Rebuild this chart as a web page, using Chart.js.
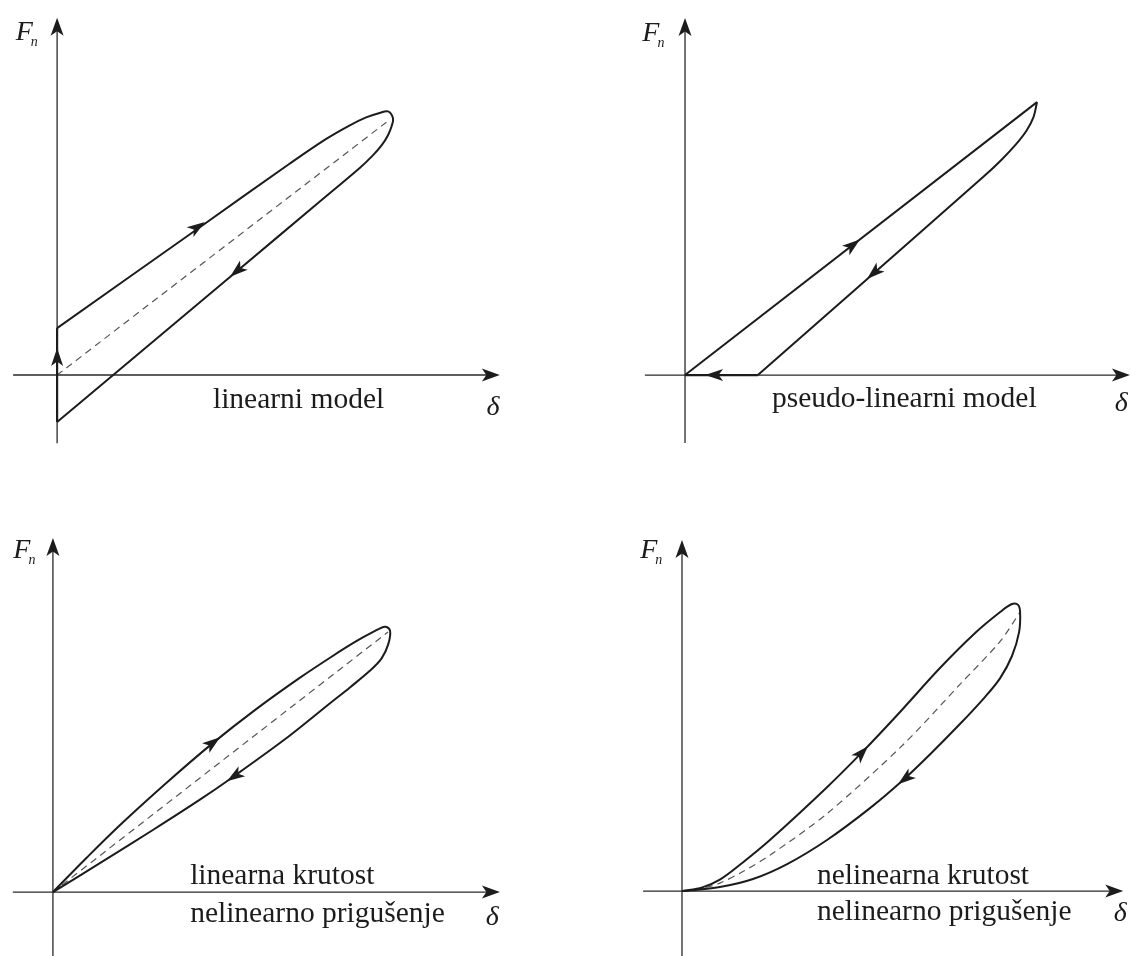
<!DOCTYPE html>
<html>
<head>
<meta charset="utf-8">
<script src="https://cdn.jsdelivr.net/npm/chart.js@4/dist/chart.umd.min.js"></script>
<style>
  body { margin: 0; background: #fff; }
  canvas { position: absolute; }
</style>
</head>
<body>
<canvas id="linearni" width="565" height="478" style="left:0;top:0"></canvas>
<canvas id="pseudo" width="566" height="478" style="left:565px;top:0"></canvas>
<canvas id="linKrutost" width="565" height="478" style="left:0;top:478px"></canvas>
<canvas id="nelinKrutost" width="566" height="478" style="left:565px;top:478px"></canvas>
<script>
// tocke [delta, Fn], delta i Fn svedeni na vrh petlje (~1, ~1)

// linearni model
const linearniOs = [[0, -0.179], [0, 0.179]];
const linearniPetlja = [
  [0, 0.179], [0.426, 0.565], [0.693, 0.807], [0.80, 0.90], [0.87, 0.952],
  [0.92, 0.983], [0.96, 1.0], [0.985, 1.006], [1.0, 0.98],
  [0.996, 0.95], [0.985, 0.915], [0.967, 0.878], [0.94, 0.838], [0.90, 0.789],
  [0.783, 0.663], [0.536, 0.397], [0.167, 0], [0, -0.179]
];
const linearniSrednja = [[0, 0], [0.991, 0.975]];

// pseudo-linearni model
const pseudoGore = [[0, 0], [1.0, 1.0]];
const pseudoDolje = [
  [1.0, 1.0], [0.99, 0.945], [0.97, 0.895], [0.94, 0.845], [0.90, 0.79],
  [0.85, 0.729], [0.5, 0.332], [0.207, 0]
];
const pseudoNula = [[0.207, 0], [0, 0]];

// linearna krutost, nelinearno prigusenje
const linKrutostPetlja = [
  [0, 0], [0.1, 0.13], [0.2, 0.255], [0.338, 0.415], [0.475, 0.565], [0.6, 0.69],
  [0.733, 0.812], [0.831, 0.895], [0.90, 0.95], [0.95, 0.985], [0.985, 1.005], [1.0, 0.99],
  [0.995, 0.94], [0.975, 0.885], [0.94, 0.838], [0.881, 0.775], [0.822, 0.715],
  [0.7, 0.59], [0.534, 0.436], [0.436, 0.35], [0.3, 0.238], [0.15, 0.118], [0, 0]
];
const linKrutostSrednja = [[0, 0], [0.994, 0.985]];

// nelinearna krutost, nelinearno prigusenje
const nelinKrutostPetlja = [
  [0, 0], [0.06, 0.013], [0.112, 0.04], [0.18, 0.1], [0.26, 0.178], [0.429, 0.362],
  [0.533, 0.484], [0.645, 0.624], [0.763, 0.777], [0.867, 0.899], [0.941, 0.972],
  [0.976, 1.0], [0.994, 0.997], [1.0, 0.972],
  [0.997, 0.902], [0.976, 0.819], [0.941, 0.742], [0.896, 0.676], [0.822, 0.582],
  [0.734, 0.477], [0.654, 0.387], [0.556, 0.289], [0.429, 0.178], [0.311, 0.094],
  [0.21, 0.042], [0.112, 0.014], [0, 0]
];
const nelinKrutostSrednja = [
  [0, 0], [0.06, 0.01], [0.112, 0.028], [0.18, 0.068], [0.26, 0.125], [0.429, 0.27],
  [0.654, 0.51], [0.822, 0.72], [0.941, 0.87], [1.0, 0.972]
];

const boja = '#1c1c1c';
const font = '"Liberation Serif", "DejaVu Serif", serif';

function strelica(ctx, x, y, kut, duz, sir) {
  ctx.save();
  ctx.translate(x, y);
  ctx.rotate(kut);
  ctx.beginPath();
  ctx.moveTo(0, 0);
  ctx.lineTo(-duz, -sir);
  ctx.lineTo(-duz * 0.75, 0);
  ctx.lineTo(-duz, sir);
  ctx.closePath();
  ctx.fillStyle = boja;
  ctx.fill();
  ctx.restore();
}

const skicaPlugin = {
  id: 'skica',
  beforeDatasetsDraw(chart, args, opts) {
    const { ctx, scales: { x, y } } = chart;
    ctx.save();
    ctx.strokeStyle = '#2a2a2a';
    ctx.lineWidth = 1.3;
    ctx.beginPath();
    ctx.moveTo(x.getPixelForValue(opts.osX[0]), y.getPixelForValue(0));
    ctx.lineTo(x.getPixelForValue(opts.osX[1]) - 8, y.getPixelForValue(0));
    ctx.moveTo(x.getPixelForValue(0), y.getPixelForValue(opts.osY[0]));
    ctx.lineTo(x.getPixelForValue(0), y.getPixelForValue(opts.osY[1]) + 8);
    ctx.stroke();
    strelica(ctx, x.getPixelForValue(opts.osX[1]), y.getPixelForValue(0), 0, 18, 6.5);
    strelica(ctx, x.getPixelForValue(0), y.getPixelForValue(opts.osY[1]), -Math.PI / 2, 18, 6.5);
    ctx.restore();
  },
  afterDatasetsDraw(chart, args, opts) {
    const { ctx, scales: { x, y } } = chart;
    ctx.save();
    opts.strelice.forEach(([d, f, d2, f2]) => {
      const px = x.getPixelForValue(d), py = y.getPixelForValue(f);
      const kut = Math.atan2(y.getPixelForValue(f2) - py, x.getPixelForValue(d2) - px);
      strelica(ctx, px, py, kut, 18, 6);
    });
    ctx.fillStyle = boja;
    ctx.textBaseline = 'alphabetic';
    ctx.textAlign = 'left';
    ctx.font = '29.5px ' + font;
    opts.natpisi.forEach(([t, d, f]) => {
      ctx.fillText(t, x.getPixelForValue(d), y.getPixelForValue(f));
    });
    ctx.textBaseline = 'middle';
    ctx.textAlign = 'center';
    ctx.font = 'italic 28px ' + font;
    const fx = x.getPixelForValue(opts.oznakaF[0]), fy = y.getPixelForValue(opts.oznakaF[1]);
    ctx.fillText('F', fx, fy);
    ctx.font = 'italic 14px ' + font;
    ctx.fillText('n', fx + 10, fy + 9);
    ctx.font = 'italic 28px ' + font;
    ctx.fillText('δ', x.getPixelForValue(opts.oznakaDelta[0]), y.getPixelForValue(opts.oznakaDelta[1]));
    ctx.restore();
  }
};

function linija(tocke, napetost, debljina) {
  return {
    data: tocke.map(([x, y]) => ({ x, y })),
    showLine: true,
    pointRadius: 0,
    borderColor: boja,
    borderWidth: debljina || 2,
    tension: napetost,
    fill: false
  };
}

function crtkano(tocke) {
  return { ...linija(tocke, 0.3, 1.2), borderDash: [7, 5], borderColor: '#555' };
}

function nacrtaj(id, granice, skupovi, skica) {
  new Chart(document.getElementById(id).getContext('2d'), {
    type: 'scatter',
    data: { datasets: skupovi },
    options: {
      responsive: false,
      animation: false,
      events: [],
      layout: { padding: 0 },
      plugins: { legend: { display: false }, tooltip: { enabled: false }, skica: skica },
      scales: {
        x: { type: 'linear', display: false, min: granice[0], max: granice[1] },
        y: { type: 'linear', display: false, min: granice[2], max: granice[3] }
      }
    },
    plugins: [skicaPlugin]
  });
}

nacrtaj('linearni', [-0.170, 1.512, -0.393, 1.431], [
  linija(linearniOs, 0, 2.2),
  linija(linearniPetlja, 0.35),
  crtkano(linearniSrednja)
], {
  osX: [-0.131, 1.318], osY: [-0.26, 1.363],
  strelice: [[0.440, 0.584, 0.693, 0.807], [0.515, 0.375, 0.167, 0], [0, 0.103, 0, 0.179]],
  natpisi: [['linearni model', 0.464, -0.126]],
  oznakaF: [-0.098, 1.305], oznakaDelta: [1.298, -0.126]
});

nacrtaj('pseudo', [-0.341, 1.267, -0.377, 1.374], [
  linija(pseudoGore, 0),
  linija(pseudoDolje, 0.35),
  linija(pseudoNula, 0, 2.2)
], {
  osX: [-0.114, 1.264], osY: [-0.249, 1.308],
  strelice: [[0.497, 0.497, 1, 1], [0.517, 0.352, 0.207, 0], [0.057, 0, 0, 0]],
  natpisi: [['pseudo-linearni model', 0.247, -0.117]],
  oznakaF: [-0.097, 1.249], oznakaDelta: [1.239, -0.103]
});

nacrtaj('linKrutost', [-0.157, 1.519, -0.242, 1.568], [
  linija(linKrutostPetlja, 0.35),
  crtkano(linKrutostSrednja)
], {
  osX: [-0.119, 1.326], osY: [-0.242, 1.341],
  strelice: [[0.496, 0.586, 0.733, 0.812], [0.516, 0.42, 0.3, 0.238]],
  natpisi: [['linearna krutost', 0.407, 0.030], ['nelinearno prigušenje', 0.407, -0.114]],
  oznakaF: [-0.092, 1.292], oznakaDelta: [1.303, -0.098]
});

nacrtaj('nelinKrutost', [-0.346, 1.328, -0.226, 1.439], [
  linija(nelinKrutostPetlja, 0.35),
  crtkano(nelinKrutostSrednja)
], {
  osX: [-0.115, 1.305], osY: [-0.226, 1.223],
  strelice: [[0.55, 0.505, 0.763, 0.777], [0.639, 0.372, 0.429, 0.178]],
  natpisi: [['nelinearna krutost', 0.399, 0.024], ['nelinearno prigušenje', 0.399, -0.101]],
  oznakaF: [-0.098, 1.185], oznakaDelta: [1.296, -0.077]
});
</script>
</body>
</html>
